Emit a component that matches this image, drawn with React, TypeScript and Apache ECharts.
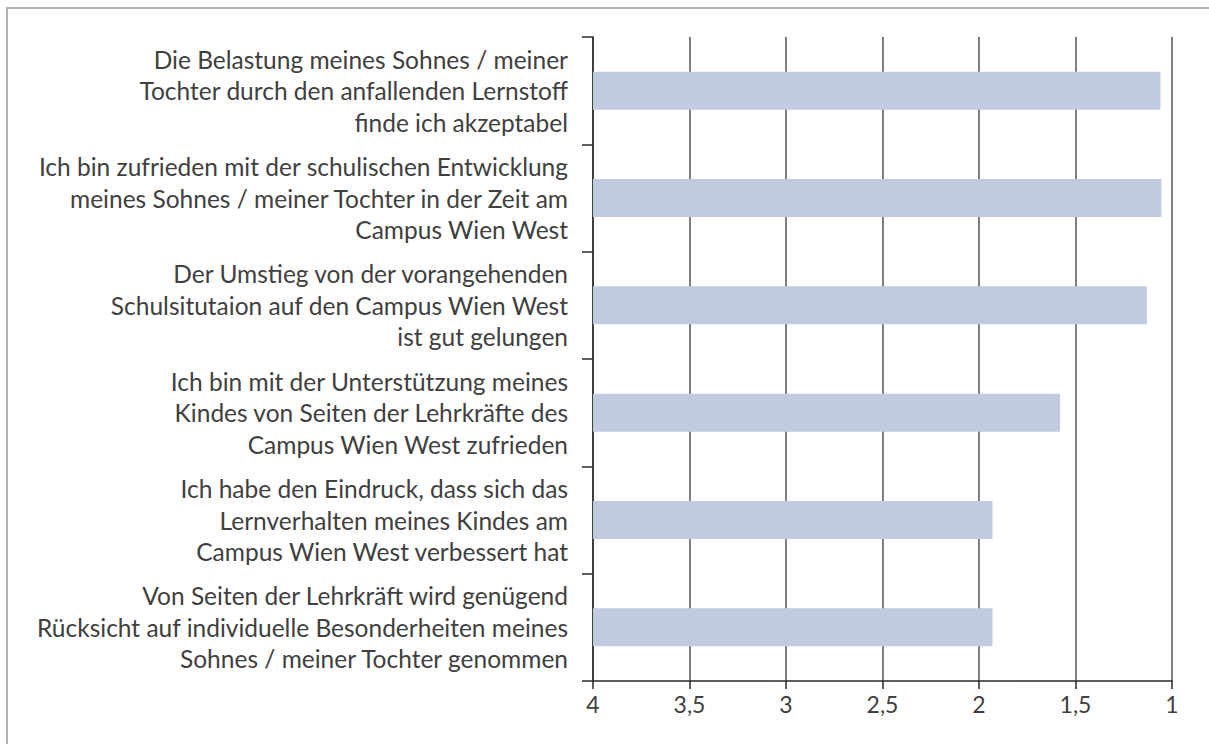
import React, { useEffect, useRef } from "react";
import * as echarts from "echarts";

const categories: string[] = [
  "Die Belastung meines Sohnes / meiner\nTochter durch den anfallenden Lernstoff\nfinde ich akzeptabel",
  "Ich bin zufrieden mit der schulischen Entwicklung\nmeines Sohnes / meiner Tochter in der Zeit am\nCampus Wien West",
  "Der Umstieg von der vorangehenden\nSchulsitutaion auf den Campus Wien West\nist gut gelungen",
  "Ich bin mit der Unterstützung meines\nKindes von Seiten der Lehrkräfte des\nCampus Wien West zufrieden",
  "Ich habe den Eindruck, dass sich das\nLernverhalten meines Kindes am\nCampus Wien West verbessert hat",
  "Von Seiten der Lehrkräft wird genügend\nRücksicht auf individuelle Besonderheiten meines\nSohnes / meiner Tochter genommen",
];

const values: number[] = [1.06, 1.055, 1.13, 1.58, 1.93, 1.93];

const axisMin = 1;
const axisMax = 4;
const axisInterval = 0.5;

export default function App() {
  const ref = useRef<HTMLDivElement>(null);
  useEffect(() => {
    if (!ref.current) return;
    const chart = echarts.init(ref.current, null, { renderer: "svg" });
    const font = "Lato, 'Open Sans', sans-serif";
    chart.setOption({
      animation: false,
      backgroundColor: "#ffffff",
      textStyle: { fontFamily: font },
      grid: { left: 593, right: 37, top: 37, bottom: 63, containLabel: false },
      graphic: [
        {
          type: "rect",
          shape: { x: 7, y: 8, width: 1400, height: 1000 },
          style: { fill: "none", stroke: "#b4b4b4", lineWidth: 2 },
          silent: true,
        },
      ],
      xAxis: {
        type: "value",
        min: axisMin,
        max: axisMax,
        interval: axisInterval,
        inverse: true,
        axisLine: { show: true, lineStyle: { color: "#2a2a2a", width: 1.5 } },
        axisTick: { show: true, length: 8, lineStyle: { color: "#2a2a2a", width: 1.5 } },
        splitLine: { show: true, lineStyle: { color: "#555555", width: 1.5 } },
        axisLabel: {
          color: "#404040",
          fontSize: 23,
          fontFamily: font,
          margin: 11,
          formatter: (v: number) => String(v).replace(".", ","),
        },
      },
      yAxis: {
        type: "category",
        data: categories,
        inverse: true,
        axisLine: { show: true, lineStyle: { color: "#2a2a2a", width: 1.5 } },
        axisTick: { show: true, length: 11, lineStyle: { color: "#2a2a2a", width: 1.5 } },
        axisLabel: {
          color: "#404040",
          fontSize: 24.5,
          lineHeight: 31.5,
          fontFamily: font,
          align: "right",
          margin: 25,
          padding: [0, 0, 6, 0],
        },
      },
      series: [
        {
          type: "bar",
          stack: "s",
          data: values,
          itemStyle: { color: "rgba(0,0,0,0)" },
          barCategoryGap: "64.6%",
          silent: true,
        },
        {
          type: "bar",
          stack: "s",
          data: values.map((v) => axisMax - v),
          itemStyle: { color: "#c1cbe0" },
          barCategoryGap: "64.6%",
        },
      ],
    });
    return () => chart.dispose();
  }, []);
  return (
    <div
      ref={ref}
      style={{ position: "fixed", left: 0, top: 0, width: 1209, height: 744 }}
    />
  );
}
